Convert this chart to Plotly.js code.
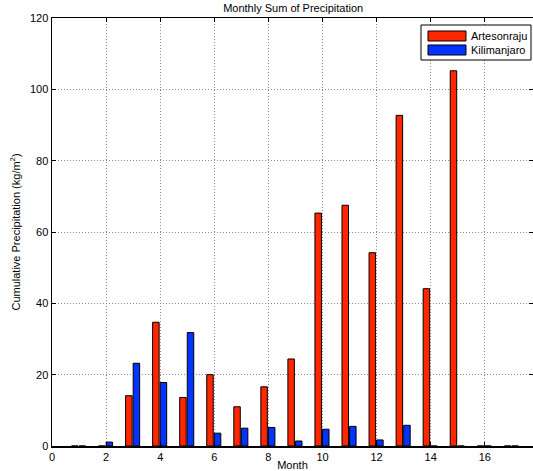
<!DOCTYPE html>
<html>
<head>
<meta charset="utf-8">
<script src="https://cdn.plot.ly/plotly-3.0.1.min.js"></script>
<style>html,body{margin:0;padding:0;background:#fff;}#chart{width:533px;height:471px;}</style>
</head>
<body>
<div id="chart"></div>
<script>
const months = [1,2,3,4,5,6,7,8,9,10,11,12,13,14,15,16,17];
const artesonraju = [0,0,14.1,34.7,13.6,20.0,11.0,16.6,24.4,65.3,67.5,54.2,92.7,44.1,105.2,0,0];
const kilimanjaro = [0,1.1,23.2,17.8,31.8,3.6,5.0,5.2,1.4,4.7,5.5,1.7,5.8,0,0,0,0];
const seriesNames = ['Artesonraju','Kilimanjaro'];
const xTicks = [0,2,4,6,8,10,12,14,16];
const yTicks = [0,20,40,60,80,100,120];

const red = '#ff2600', blue = '#0433ff';
const font = 'Liberation Sans, Arial, Helvetica, sans-serif';

const traces = [
  {type:'bar', x:months, y:artesonraju, name:seriesNames[0], offset:-0.28, width:0.24,
   marker:{color:red, line:{color:'#000', width:1}}, showlegend:false},
  {type:'bar', x:months, y:kilimanjaro, name:seriesNames[1], offset:0.0, width:0.24,
   marker:{color:blue, line:{color:'#000', width:1}}, showlegend:false}
];

// legend geometry in paper coordinates (plot area 52..533 x 18..446 px)
const L = 52, W = 481, T = 18, H = 428;
const px = v => (v - L) / W;
const py = v => (T + H - v) / H;

const shapes = [
  {type:'rect', xref:'paper', yref:'paper', x0:px(421), x1:px(531), y0:py(60), y1:py(25),
   line:{color:'#000', width:1}, fillcolor:'#fff'},
  {type:'rect', xref:'paper', yref:'paper', x0:px(428), x1:px(466), y0:py(41), y1:py(31),
   line:{color:'#000', width:1}, fillcolor:red},
  {type:'rect', xref:'paper', yref:'paper', x0:px(428), x1:px(466), y0:py(55), y1:py(45),
   line:{color:'#000', width:1}, fillcolor:blue}
];
const annotations = [
  {xref:'paper', yref:'paper', x:px(469), y:py(36), text:seriesNames[0], showarrow:false,
   xanchor:'left', yanchor:'middle', font:{family:font, size:11, color:'#000'}},
  {xref:'paper', yref:'paper', x:px(469), y:py(50), text:seriesNames[1], showarrow:false,
   xanchor:'left', yanchor:'middle', font:{family:font, size:11, color:'#000'}}
];

const grid = {showgrid:true, gridcolor:'#8a8a8a', griddash:'1px,2px', gridwidth:1};

const layout = {
  width:533, height:471,
  margin:{l:52, r:0, t:18, b:25, pad:0},
  paper_bgcolor:'#fff', plot_bgcolor:'#fff',
  barmode:'overlay',
  font:{family:font, size:11, color:'#000'},
  title:{text:'Monthly Sum of Precipitation', x:0.55, xanchor:'center', y:0.99, yanchor:'top',
         font:{family:font, size:11, color:'#000'}},
  xaxis:Object.assign({range:[0,17.78], tickvals:xTicks, ticktext:xTicks.map(String), ticks:'inside', ticklen:4,
         tickcolor:'#000', showline:true, linecolor:'#000', linewidth:1.5, mirror:'ticks',
         zeroline:false,
         title:{text:'Month', font:{family:font, size:11}, standoff:1}, automargin:false}, grid),
  yaxis:Object.assign({range:[0,120], tickvals:yTicks, ticktext:yTicks.map(String), ticks:'inside', ticklen:4,
         tickcolor:'#000', showline:true, linecolor:'#000', linewidth:1.5, mirror:'ticks',
         zeroline:false,
         title:{text:'Cumulative Precipitation (kg/m<sup>2</sup>)', font:{family:font, size:11}, standoff:7},
         automargin:false}, grid),
  shapes:shapes,
  annotations:annotations
};

Plotly.newPlot('chart', traces, layout, {displayModeBar:false, staticPlot:true});
</script>
</body>
</html>
